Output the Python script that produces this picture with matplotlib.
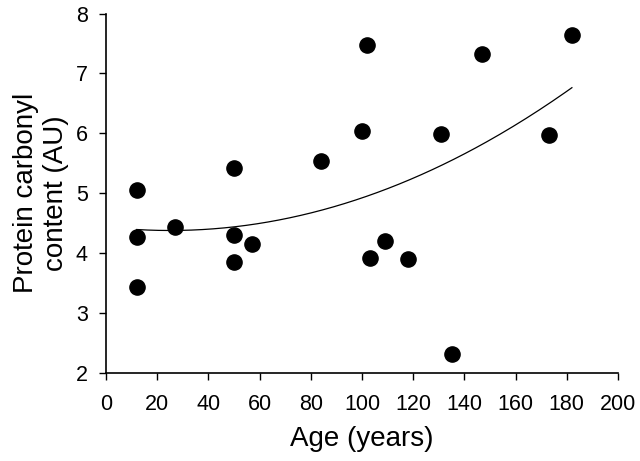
import matplotlib
matplotlib.use("Agg")
import matplotlib.pyplot as plt
import numpy as np

plt.rcParams['font.family'] = ['Liberation Sans', 'DejaVu Sans']

# data
age = [12, 12, 12, 27, 50, 50, 50, 57, 84, 100, 102, 103, 109, 118, 131, 135, 147, 173, 182]
carbonyl = [5.06, 4.27, 3.44, 4.43, 5.42, 4.30, 3.85, 4.15, 5.53, 6.04, 7.47,
            3.92, 4.20, 3.90, 5.99, 2.32, 7.33, 5.98, 7.65]

# quadratic trend line
coef = np.polyfit(age, carbonyl, 2)
xs = np.linspace(min(age), max(age), 200)
ys = np.polyval(coef, xs)

fig = plt.figure(figsize=(6.4, 4.61), dpi=100)
ax = fig.add_axes([0.1656, 0.1915, 0.80, 0.779])

ax.plot(xs, ys, color="black", linewidth=0.9)
ax.scatter(age, carbonyl, s=120, color="black", zorder=3)

ax.set_xlim(0, 200)
ax.set_ylim(2, 8)
ax.set_xticks(range(0, 201, 20))
ax.set_yticks(range(2, 9))

for s in ["top", "right"]:
    ax.spines[s].set_visible(False)
for s in ["left", "bottom"]:
    ax.spines[s].set_linewidth(1.2)
ax.tick_params(direction="out", length=5, width=1, labelsize=15.5)
ax.tick_params(axis="x", pad=10)
ax.tick_params(axis="y", pad=8)

ax.set_xlabel("Age (years)", fontsize=20, labelpad=8)
ax.set_ylabel("Protein carbonyl\ncontent (AU)", fontsize=20, labelpad=5)

plt.savefig("out.png", dpi=100)
